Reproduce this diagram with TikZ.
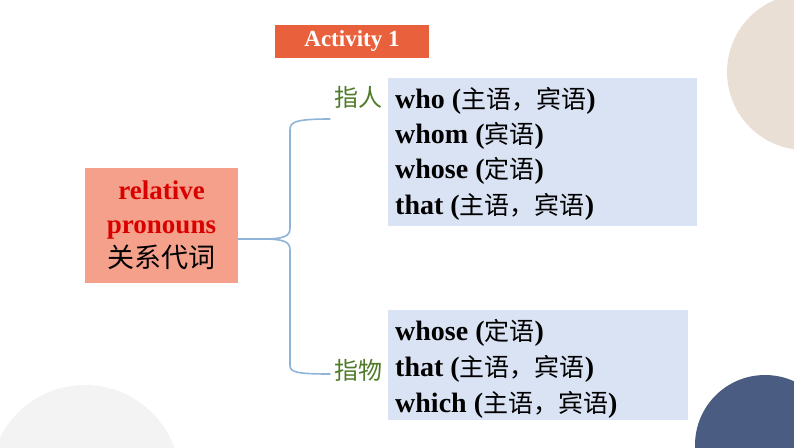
\documentclass[tikz,border=0pt]{standalone}
\usepackage{fontspec}
\setmainfont{Liberation Serif}
\newfontfamily\cjk{Noto Sans CJK SC}
\definecolor{actc}{HTML}{E8613C}
\definecolor{relc}{HTML}{F4A08A}
\definecolor{boxc}{HTML}{DAE3F3}
\definecolor{grn}{HTML}{4F7A28}
\definecolor{brc}{HTML}{8FB4D8}
\definecolor{beige}{HTML}{EADFD5}
\definecolor{navy}{HTML}{4B5C82}
\definecolor{lgray}{HTML}{F3F3F3}
\newcommand{\zh}[1]{{\cjk\mdseries\fontsize{25}{28}\selectfont #1}}
\begin{document}
\begin{tikzpicture}[x=1pt,y=-1pt,
  line/.style={anchor=west,inner sep=0pt,font=\fontsize{28}{30}\selectfont\bfseries},
  lab/.style={text=grn,font=\cjk\fontsize{24}{26}\selectfont}]
\useasboundingbox (0,0) rectangle (794,447);
\begin{scope}
\clip (0,0) rectangle (794,447);
\fill[beige] (805,72) circle (78);
\fill[lgray] (85,480) circle (95);
\fill[navy] (765,445) circle (70);
\end{scope}
\node[fill=actc,minimum width=154,minimum height=33,text=white,font=\fontsize{23}{26}\selectfont\bfseries] (act) at (352,41) {Activity 1};
\node[fill=relc,minimum width=153,minimum height=115,align=center,inner sep=0pt,
  font=\fontsize{27}{34}\selectfont] (rel) at (161.5,225.5)
 {\textcolor{red!85!black}{\bfseries relative}\\
  \textcolor{red!85!black}{\bfseries pronouns}\\
  {\cjk 关系代词}};
\node[fill=boxc,minimum width=309,minimum height=148,anchor=north west] (b1) at (388,78) {};
\node[fill=boxc,minimum width=300,minimum height=110,anchor=north west] (b2) at (388,310) {};
\node[lab] (p) at (358,97) {指人};
\node[lab] (t) at (358,370) {指物};
\node[line] (l1) at (395,101) {who (\zh{主语，宾语})};
\node[line] (l2) at (395,136) {whom (\zh{宾语})};
\node[line] (l3) at (395,171) {whose (\zh{定语})};
\node[line] (l4) at (395,207) {that (\zh{主语，宾语})};
\node[line] (m1) at (395,333) {whose (\zh{定语})};
\node[line] (m2) at (395,369) {that (\zh{主语，宾语})};
\node[line] (m3) at (395,405) {which (\zh{主语，宾语})};
\draw[brc,line width=1.6] (rel.east|-0,239) -- (262,239)
  .. controls (285,239) and (290,236) .. (290,228) -- (290,130)
  .. controls (290,122) and (295,119) .. (p.west|-0,119) ;
\draw[brc,line width=1.6] (262,239) .. controls (285,239) and (290,242) .. (290,250) -- (290,365)
  .. controls (290,372) and (295,374) .. (t.west|-0,374);
\end{tikzpicture}
\end{document}
